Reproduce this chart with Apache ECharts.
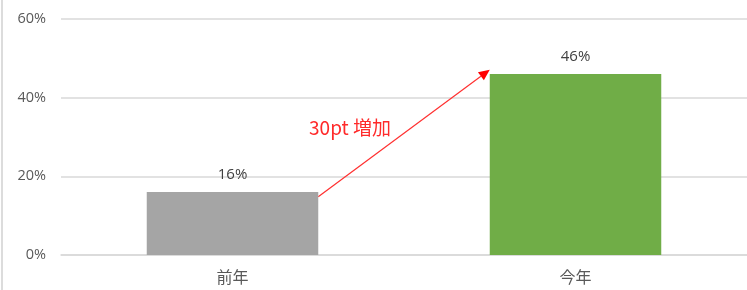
<!DOCTYPE html>
<html><head><meta charset="utf-8">
<script src="https://cdn.jsdelivr.net/npm/echarts@6/dist/echarts.min.js"></script>
<style>html,body{margin:0;padding:0;background:#fff}#c{width:747px;height:290px}</style>
</head><body><div id="c"></div>
<script>
var categories = ['前年', '今年'];
var values = [16, 46];
var barColors = ['#a5a5a5', '#70ad47'];
var yTicks = [0, 20, 40, 60];
var arrowText = '30pt 増加';
var arrowFrom = 14.8, arrowTo = 47.1;

var font = '"Open Sans", "Noto Sans CJK JP", sans-serif';
var chart = echarts.init(document.getElementById('c'));
var option = {
  animation: false,
  grid: { left: 61, right: -5, top: 19, bottom: 35 },
  xAxis: {
    type: 'category', data: categories,
    axisLine: { lineStyle: { color: '#d9d9d9', width: 1.5 } },
    axisTick: { show: false },
    axisLabel: { color: '#595959', fontSize: 16, fontFamily: '"Noto Sans CJK JP", sans-serif', margin: 14 }
  },
  yAxis: {
    type: 'value', min: yTicks[0], max: yTicks[yTicks.length - 1], interval: 20,
    axisLabel: { formatter: '{value}%', color: '#595959', fontSize: 14.5, fontFamily: font, margin: 15 },
    splitLine: { lineStyle: { color: '#d9d9d9', width: 1.5 } },
    axisLine: { show: false }, axisTick: { show: false }
  },
  series: [{
    type: 'bar', barWidth: '50%',
    data: values.map(function (v, i) { return { value: v, itemStyle: { color: barColors[i] } }; }),
    label: { show: true, position: 'top', formatter: '{c}%', color: '#404040', fontSize: 15, fontFamily: font, distance: 10 }
  }]
};
chart.setOption(option);

var c0 = chart.convertToPixel({ xAxisIndex: 0, yAxisIndex: 0 }, [0, arrowFrom]);
var c1 = chart.convertToPixel({ xAxisIndex: 0, yAxisIndex: 0 }, [1, arrowTo]);
var band = chart.convertToPixel({ xAxisIndex: 0 }, 1) - chart.convertToPixel({ xAxisIndex: 0 }, 0);
var half = band * 0.25;
var x1 = c0[0] + half, y1 = c0[1];
var x2 = c1[0] - half, y2 = c1[1];
var ang = Math.atan2(y2 - y1, x2 - x1);
var L = 11, W = 5;
var bx = x2 - L * Math.cos(ang), by = y2 - L * Math.sin(ang);
var px = -Math.sin(ang) * W, py = Math.cos(ang) * W;
chart.setOption({
  graphic: [
    { type: 'line', shape: { x1: 2, y1: 0, x2: 2, y2: 290 }, style: { stroke: '#d0d0d0', lineWidth: 1.5 } },
    { type: 'line', shape: { x1: x1, y1: y1, x2: bx, y2: by }, style: { stroke: '#ff3030', lineWidth: 1.2 } },
    { type: 'polygon', shape: { points: [[x2, y2], [bx + px, by + py], [bx - px, by - py]] }, style: { fill: '#ff0000' } },
    { type: 'text', x: (x1 + x2) / 2 - 54, y: (y1 + y2) / 2 - 5, style: { text: arrowText, fill: '#ff2a2a', fontSize: 19, fontFamily: '"Noto Sans CJK JP", sans-serif', align: 'center', verticalAlign: 'middle' } }
  ]
});
</script></body></html>
